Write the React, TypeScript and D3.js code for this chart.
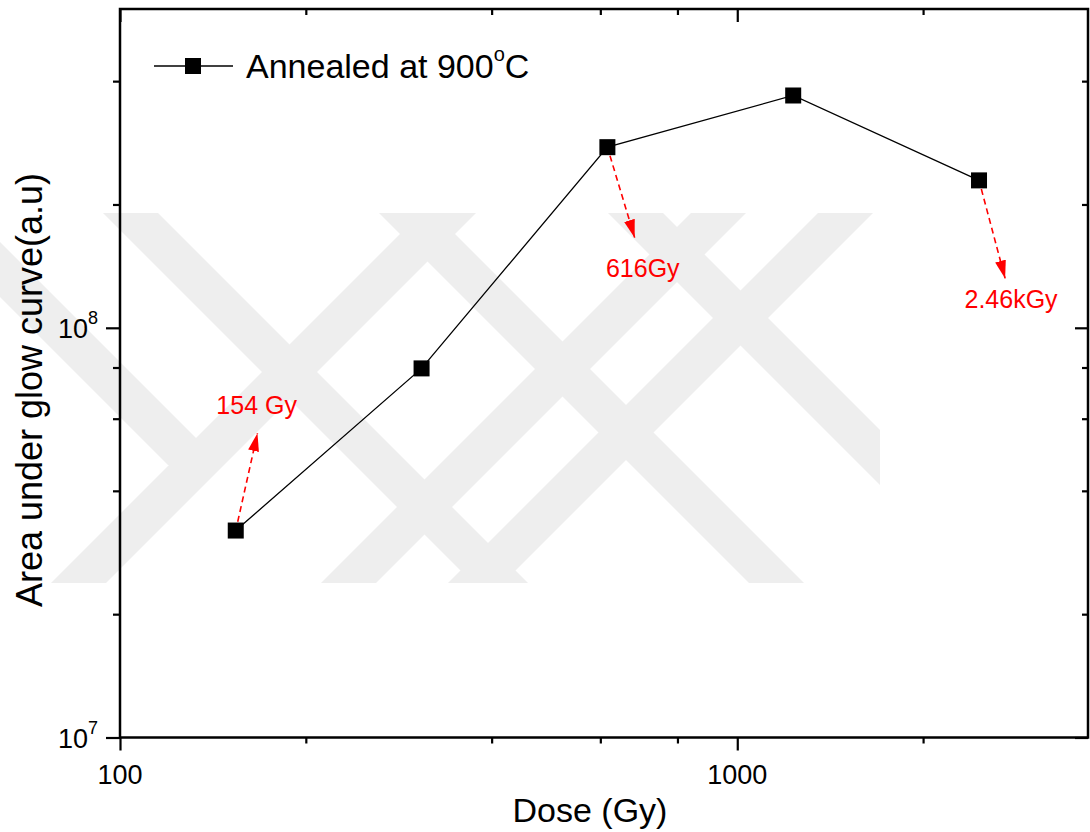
import React, { useEffect, useRef } from "react";
import * as d3 from "d3";

// measured series
const doses = [154, 308, 616, 1232, 2464];
const areas = [3.2e7, 7.96e7, 2.76e8, 3.69e8, 2.29e8];
const seriesName = "Annealed at 900";

// axis ticks
const xMajorTicks = [100, 1000];
const xMinorTicks = [200, 400, 600, 800, 2000];
const yMajorTicks = [1e7, 1e8];
const yMinorTicks = [2e7, 4e7, 6e7, 8e7, 2e8, 4e8];

// red annotations (point index, arrow tip and label in data units)
const noteLabels = ["154 Gy", "616Gy", "2.46kGy"];
const notePoint = [0, 2, 4];
const noteTipDose = [167, 682, 2716];
const noteTipArea = [5.53e7, 1.66e8, 1.32e8];
const noteTextDose = [166.5, 703, 2777];
const noteTextArea = [6.15e7, 1.33e8, 1.12e8];

// faint background watermark bands (top-left x at band top, direction)
const watermarkBands = [
  { x0: -84, dir: 1, stop: 252 },
  { x0: 103, dir: 1, stop: 370 },
  { x0: 379, dir: 1, stop: 370 },
  { x0: 608, dir: 1, stop: 370 },
  { x0: 421, dir: -1, stop: 370 },
  { x0: 691, dir: -1, stop: 370 },
  { x0: 818, dir: -1, stop: 370 },
];

export default function App() {
  const ref = useRef<SVGSVGElement>(null);

  useEffect(() => {
    const width = 1090;
    const height = 832;
    const left = 120;
    const right = 1088;
    const top = 9;
    const bottom = 737.5;
    const font = "'Liberation Sans', Arial, sans-serif";

    const svg = d3.select(ref.current);
    svg.selectAll("*").remove();
    svg.attr("width", width).attr("height", height);

    const x = d3.scaleLog().domain([100, 3700]).range([left, right]);
    const y = d3.scaleLog().domain([1e7, 6e8]).range([bottom, top]);

    // watermark
    const defs = svg.append("defs");
    defs
      .append("clipPath")
      .attr("id", "wm-clip")
      .append("rect")
      .attr("x", 0)
      .attr("y", 213)
      .attr("width", 880)
      .attr("height", 370);
    const wm = svg.append("g").attr("clip-path", "url(#wm-clip)");
    const bandW = 55;
    const wmTop = 213;
    wm.selectAll("polygon")
      .data(watermarkBands)
      .enter()
      .append("polygon")
      .attr("fill", "#eeeeee")
      .attr("points", (d) => {
        const s = d.stop;
        const pts = [
          [d.x0, wmTop],
          [d.x0 + bandW, wmTop],
          [d.x0 + bandW + d.dir * s, wmTop + s],
          [d.x0 + d.dir * s, wmTop + s],
        ];
        return pts.map((p) => p.join(",")).join(" ");
      });

    // arrow head
    defs
      .append("marker")
      .attr("id", "arrow")
      .attr("markerUnits", "userSpaceOnUse")
      .attr("markerWidth", 20)
      .attr("markerHeight", 12)
      .attr("refX", 18)
      .attr("refY", 5.5)
      .attr("orient", "auto")
      .append("path")
      .attr("d", "M0,0 L18,5.5 L0,11 Z")
      .attr("fill", "#ff0000");

    // axes with ticks
    const tickStroke = (g: any, w: number) =>
      g.selectAll("line").attr("stroke", "#000").attr("stroke-width", w);

    const addAxis = (axis: any, transform: string) => {
      const g = svg.append("g").attr("transform", transform).call(axis);
      g.select(".domain").remove();
      g.selectAll("text").remove();
      tickStroke(g, 2.2);
    };

    addAxis(
      d3.axisBottom(x).tickValues(xMajorTicks).tickSize(13).tickFormat(() => ""),
      `translate(0,${bottom})`
    );
    addAxis(
      d3.axisBottom(x).tickValues(xMinorTicks).tickSize(6).tickFormat(() => ""),
      `translate(0,${bottom})`
    );
    addAxis(
      d3.axisTop(x).tickValues(xMajorTicks).tickSize(-13).tickFormat(() => ""),
      `translate(0,${top})`
    );
    addAxis(
      d3.axisTop(x).tickValues(xMinorTicks).tickSize(-6).tickFormat(() => ""),
      `translate(0,${top})`
    );
    addAxis(
      d3.axisLeft(y).tickValues(yMajorTicks).tickSize(14).tickFormat(() => ""),
      `translate(${left},0)`
    );
    addAxis(
      d3.axisLeft(y).tickValues(yMinorTicks).tickSize(7).tickFormat(() => ""),
      `translate(${left},0)`
    );
    addAxis(
      d3.axisRight(y).tickValues(yMajorTicks).tickSize(-13).tickFormat(() => ""),
      `translate(${right},0)`
    );
    addAxis(
      d3.axisRight(y).tickValues(yMinorTicks).tickSize(-6).tickFormat(() => ""),
      `translate(${right},0)`
    );

    // frame
    svg
      .append("rect")
      .attr("x", left)
      .attr("y", top)
      .attr("width", right - left)
      .attr("height", bottom - top)
      .attr("fill", "none")
      .attr("stroke", "#000")
      .attr("stroke-width", 2.5);

    // x tick labels
    svg
      .selectAll(".xlab")
      .data(xMajorTicks)
      .enter()
      .append("text")
      .attr("x", (d) => x(d))
      .attr("y", bottom + 46.5)
      .attr("text-anchor", "middle")
      .attr("font-family", font)
      .attr("font-size", 27)
      .text((d) => String(d));

    // y tick labels 10^n
    yMajorTicks.forEach((v) => {
      const t = svg
        .append("text")
        .attr("x", 98)
        .attr("y", y(v) + 10.5)
        .attr("text-anchor", "end")
        .attr("font-family", font)
        .attr("font-size", 27);
      t.append("tspan").text("10");
      t.append("tspan")
        .attr("dy", -14)
        .attr("font-size", 18)
        .text(String(Math.round(Math.log10(v))));
    });

    // axis titles
    svg
      .append("text")
      .attr("x", 590)
      .attr("y", 822)
      .attr("text-anchor", "middle")
      .attr("font-family", font)
      .attr("font-size", 34)
      .text("Dose (Gy)");

    svg
      .append("text")
      .attr("transform", "translate(42,390) rotate(-90)")
      .attr("text-anchor", "middle")
      .attr("font-family", font)
      .attr("font-size", 36)
      .text("Area under glow curve(a.u)");

    // series line + markers
    const idx = d3.range(doses.length);
    const line = d3
      .line<number>()
      .x((i) => x(doses[i]))
      .y((i) => y(areas[i]));

    svg
      .append("path")
      .datum(idx)
      .attr("d", line)
      .attr("fill", "none")
      .attr("stroke", "#000")
      .attr("stroke-width", 1.3);

    svg
      .selectAll(".pt")
      .data(idx)
      .enter()
      .append("rect")
      .attr("x", (i) => x(doses[i]) - 8)
      .attr("y", (i) => y(areas[i]) - 8)
      .attr("width", 16)
      .attr("height", 16)
      .attr("fill", "#000");

    // annotations
    noteLabels.forEach((label, k) => {
      const px = x(doses[notePoint[k]]);
      const py = y(areas[notePoint[k]]);
      const tx = x(noteTipDose[k]);
      const ty = y(noteTipArea[k]);
      const len = Math.hypot(tx - px, ty - py);
      const sx = px + ((tx - px) / len) * 9;
      const sy = py + ((ty - py) / len) * 9;
      svg
        .append("line")
        .attr("x1", sx)
        .attr("y1", sy)
        .attr("x2", tx)
        .attr("y2", ty)
        .attr("stroke", "#ff0000")
        .attr("stroke-width", 1.6)
        .attr("stroke-dasharray", "6,4")
        .attr("marker-end", "url(#arrow)");
      svg
        .append("text")
        .attr("x", x(noteTextDose[k]))
        .attr("y", y(noteTextArea[k]))
        .attr("text-anchor", "middle")
        .attr("font-family", font)
        .attr("font-size", 25)
        .attr("fill", "#ff0000")
        .text(label);
    });

    // legend
    const lg = svg.append("g");
    lg.append("line")
      .attr("x1", 154)
      .attr("x2", 233)
      .attr("y1", 66)
      .attr("y2", 66)
      .attr("stroke", "#000")
      .attr("stroke-width", 1.3);
    lg.append("rect")
      .attr("x", 185)
      .attr("y", 58)
      .attr("width", 16)
      .attr("height", 16)
      .attr("fill", "#000");
    const lt = lg
      .append("text")
      .attr("x", 246)
      .attr("y", 77.5)
      .attr("font-family", font)
      .attr("font-size", 34);
    lt.append("tspan").text(seriesName);
    lt.append("tspan").attr("dy", -17).attr("font-size", 20).text("o");
    lt.append("tspan").attr("dy", 17).text("C");
  }, []);

  return (
    <svg
      ref={ref}
      style={{ position: "absolute", left: 0, top: 0, background: "#fff" }}
    />
  );
}
